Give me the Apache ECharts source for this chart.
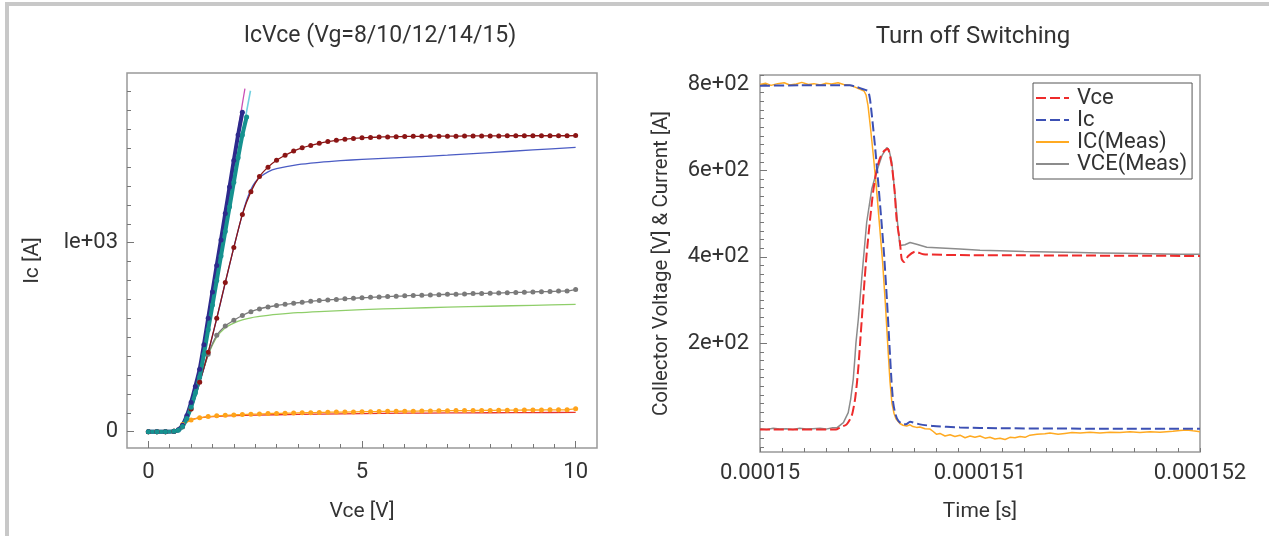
<!DOCTYPE html>
<html><head><meta charset="utf-8">
<script src="https://cdn.jsdelivr.net/npm/echarts@6/dist/echarts.min.js"></script>
<style>
html,body{margin:0;padding:0;background:#fff;overflow:hidden;}
#chart{position:absolute;left:0;top:0;width:1269px;height:536px;}
#frame{position:absolute;left:5px;top:2px;width:1300px;height:600px;border-top:4px solid #c8c8c8;border-left:4px solid #c8c8c8;pointer-events:none;}
</style></head><body>
<div id="chart"></div><div id="frame"></div>
<script>
// ---------- Left chart: Ic vs Vce ----------
const leftTitle = 'IcVce (Vg=8/10/12/14/15)';
const rightTitle = 'Turn off Switching';

const vMeas = [0,0.2,0.4,0.6,0.8,1,1.2,1.4,1.6,1.8,2,2.2,2.4,2.6,2.8,3,3.2,3.4,3.6,3.8,4,4.2,4.4,4.6,4.8,5,5.2,5.4,5.6,5.8,6,6.2,6.4,6.6,6.8,7,7.2,7.4,7.6,7.8,8,8.2,8.4,8.6,8.8,9,9.2,9.4,9.6,9.8,10];
const icVg12Meas = [0,0,0,2,30,120,262,420,600,790,975,1150,1270,1350,1400,1436,1463,1485,1502,1515,1526,1535,1542,1548,1552,1555,1557,1559,1560,1561,1562,1563,1563,1564,1564,1564,1564,1565,1565,1565,1565,1565,1566,1566,1566,1566,1566,1566,1566,1566,1567];
const icVg10Meas = [0,0,0,2,25,120,265,410,510,560,590,615,635,650,660,668,674,680,685,690,694,697,700,703,706,709,711,713,715,717,719,721,722,724,725,727,728,729,731,732,733,734,736,737,738,740,741,742,744,745,752];
const icVg8Meas = [0,0,0,3,38,62,74,80,84,87,89,91,93,94,96,97,98,99,100,101,102,103,104,104,105,106,106,107,108,108,109,109,110,110,111,111,112,112,112,113,113,114,114,114,115,115,115,116,116,116,122];

const vSim12 = [0,0.5,0.6,0.8,1,1.2,1.4,1.6,1.8,2,2.2,2.3,2.4,2.5,2.6,2.8,3,3.5,4,4.5,5,6,7,8,9,10];
const icVg12Sim = [0,0,1,30,118,258,418,598,788,975,1150,1225,1282,1320,1345,1375,1392,1413,1425,1434,1441,1452,1463,1477,1491,1504];
const vSim10 = [0,0.5,0.6,0.8,1,1.2,1.4,1.6,1.8,2,2.2,2.4,2.6,2.8,3,3.5,4,5,6,7,8,9,10];
const icVg10Sim = [0,0,1,25,118,262,405,500,550,575,592,603,610,616,621,630,636,646,653,659,664,669,674];
const vSim8 = [0,0.5,0.6,0.7,0.8,0.9,1,1.2,1.5,2,3,4,5,6,7,8,9,10];
const icVg8Sim = [0,0,1,12,35,52,63,73,80,85,90,93,96,98,99.5,100.5,101.5,102];

const vMeas15 = [0,0.2,0.4,0.6,0.7,0.8,0.9,1,1.1,1.2,1.3,1.4,1.5,1.6,1.7,1.8,1.9,2,2.1,2.2];
const icVg15Meas = [0,0,0,2,10,35,85,155,240,330,460,600,740,880,1015,1155,1295,1435,1570,1690];
const vMeas14 = [0,0.2,0.4,0.6,0.7,0.8,0.9,1,1.1,1.2,1.3,1.4,1.5,1.6,1.7,1.8,1.9,2,2.1,2.2,2.3];
const icVg14Meas = [0,0,0,2,8,28,70,130,205,290,410,540,670,800,930,1060,1190,1320,1450,1570,1665];
const vSim15 = [0,0.6,0.8,1,1.2,1.4,1.6,1.8,2,2.2,2.26];
const icVg15Sim = [0,1,38,160,340,612,895,1175,1455,1735,1815];
const vSim14 = [0,0.6,0.8,1,1.2,1.4,1.6,1.8,2,2.2,2.39];
const icVg14Sim = [0,1,30,135,295,545,805,1065,1325,1575,1804];

const leftXLabels = [0,5,10];
const leftXMinor = [0,0.5,1,1.5,2,2.5,3,3.5,4,4.5,5,5.5,6,6.5,7,7.5,8,8.5,9,9.5,10];
const leftYLabels = [0,1000];
const leftYLabelText = {0:'0',1000:'le+03'};
const leftYMinor = [0,100,200,300,400,500,600,700,800,900,1000,1100,1200,1300,1400,1500,1600,1700,1800];

// ---------- Right chart: turn-off switching ----------
const tVce = [1.5e-4,1.50345e-4,1.50364e-4,1.50394e-4,1.50417e-4,1.50432e-4,1.50441e-4,1.50448e-4,1.50455e-4,1.50464e-4,1.50473e-4,1.50485e-4,1.505e-4,1.50514e-4,1.5053e-4,1.50545e-4,1.50564e-4,1.50581e-4,1.50599e-4,1.50611e-4,1.50621e-4,1.50636e-4,1.50644e-4,1.50655e-4,1.50674e-4,1.50705e-4,1.50742e-4,1.50909e-4,1.52e-4];
const vceSim = [0,0,5,12,32,70,110,150,200,265,330,408,485,550,600,628,645,650,611,557,487,434,395,388,402,412,406,404,402];

const tIc = [1.5e-4,1.50182e-4,1.50409e-4,1.50436e-4,1.50462e-4,1.50482e-4,1.50492e-4,1.505e-4,1.50509e-4,1.50523e-4,1.50536e-4,1.5055e-4,1.50564e-4,1.50577e-4,1.50589e-4,1.50598e-4,1.50606e-4,1.50616e-4,1.50629e-4,1.50651e-4,1.50664e-4,1.50682e-4,1.50727e-4,1.50788e-4,1.50909e-4,1.51091e-4,1.51545e-4,1.52e-4];
const icSim = [796,797,797,794,789,786,784,765,725,655,580,495,405,300,190,110,60,35,20,12,12,18,12,8,5,3,2,2];

const tIcMeas = [1.5e-4,1.50025e-4,1.5005e-4,1.5008e-4,1.5011e-4,1.50135e-4,1.50165e-4,1.5019e-4,1.5022e-4,1.50245e-4,1.50275e-4,1.503e-4,1.50325e-4,1.50355e-4,1.5038e-4,1.5041e-4,1.50432e-4,1.50455e-4,1.50473e-4,1.50482e-4,1.50491e-4,1.50502e-4,1.50516e-4,1.5053e-4,1.50543e-4,1.50557e-4,1.5057e-4,1.50582e-4,1.50591e-4,1.506e-4,1.50609e-4,1.50618e-4,1.50636e-4,1.5065e-4,1.50667e-4,1.50682e-4,1.50695e-4,1.50712e-4,1.50727e-4,1.5075e-4,1.50773e-4,1.50786e-4,1.50803e-4,1.50818e-4,1.50841e-4,1.50864e-4,1.50886e-4,1.50909e-4,1.50932e-4,1.50955e-4,1.50977e-4,1.51e-4,1.51023e-4,1.51045e-4,1.51068e-4,1.51091e-4,1.51114e-4,1.51136e-4,1.51159e-4,1.51182e-4,1.51205e-4,1.51227e-4,1.51259e-4,1.51295e-4,1.51318e-4,1.51355e-4,1.51386e-4,1.51418e-4,1.51455e-4,1.515e-4,1.51545e-4,1.51591e-4,1.51636e-4,1.51682e-4,1.51727e-4,1.51773e-4,1.51818e-4,1.51877e-4,1.51909e-4,1.51941e-4,1.51968e-4,1.52e-4];
const icMeas = [799,802,797,801,803,798,800,804,799,801,798,802,800,803,799,797,793,788,784,775,750,700,630,555,475,390,290,185,110,60,38,25,14,10,8,11,7,5,6,2,1,-4,-11,-9,-15,-12,-16,-13,-19,-15,-18,-15,-20,-18,-22,-20,-23,-18,-19,-16,-18,-13,-11,-10,-8,-11,-9,-7,-8,-6,-8,-6,-7,-5,-7,-5,-6,-4,-2,-1,-3,-5];

const tVceMeas = [1.5e-4,1.5003e-4,1.5006e-4,1.5009e-4,1.5012e-4,1.5015e-4,1.5018e-4,1.5021e-4,1.5024e-4,1.50273e-4,1.503e-4,1.5033e-4,1.50349e-4,1.50379e-4,1.50401e-4,1.50412e-4,1.50424e-4,1.50432e-4,1.50436e-4,1.50447e-4,1.50462e-4,1.5047e-4,1.50485e-4,1.50508e-4,1.5053e-4,1.50555e-4,1.50576e-4,1.50586e-4,1.50599e-4,1.50614e-4,1.50629e-4,1.50636e-4,1.50644e-4,1.50659e-4,1.50682e-4,1.50712e-4,1.50758e-4,1.50909e-4,1.51e-4,1.51091e-4,1.512e-4,1.51318e-4,1.5145e-4,1.51545e-4,1.5165e-4,1.51773e-4,1.519e-4,1.52e-4];
const vceMeas = [2,0,3,1,2,0,3,1,2,3,1,4,4,16,39,70,117,170,200,256,348,394,480,557,597,635,653,648,620,542,458,426,425,428,433,429,422,418,415,414,412,411,410,409,408,407,406,406];

const rightXLabels = [1.5e-4,1.51e-4,1.52e-4];
const rightXTicks = [1.5e-4,1.501e-4,1.502e-4,1.503e-4,1.504e-4,1.505e-4,1.506e-4,1.507e-4,1.508e-4,1.509e-4,1.51e-4,1.511e-4,1.512e-4,1.513e-4,1.514e-4,1.515e-4,1.516e-4,1.517e-4,1.518e-4,1.519e-4,1.52e-4];
const rightYLabels = [200,400,600,800];
const rightYLabelText = {200:'2e+02',400:'4e+02',600:'6e+02',800:'8e+02'};
const rightYMinor = [-40,-20,0,20,40,60,80,100,120,140,160,180,200,220,240,260,280,300,320,340,360,380,400,420,440,460,480,500,520,540,560,580,600,620,640,660,680,700,720,740,760,780,800,820];

// ---------- build ----------
const FONT = 'Roboto';
const TXT = {fontFamily: FONT, fontSize: 22, color: '#333'};
const NAME = {fontFamily: FONT, fontSize: 21, color: '#333'};
const TICK = {color: '#777', width: 1};
const DASH_ICON = 'path://M0,0h9v2h-9z M13,0h9v2h-9z M26,0h7v2h-7z';
function pairs(xs, ys){ return xs.map((x,i)=>[x, ys[i]]); }

function simLine(name, xs, ys, color, w){
  return {name, type:'line', xAxisIndex:0, yAxisIndex:0, data:pairs(xs,ys), symbol:'none',
    smooth:0.3, lineStyle:{color, width:w||1.3}, itemStyle:{color}, silent:true};
}
function measLine(name, xs, ys, color, w, s){
  return {name, type:'line', xAxisIndex:0, yAxisIndex:0, data:pairs(xs,ys), symbol:'circle',
    symbolSize:s||5, showSymbol:true, smooth:0.2, lineStyle:{color, width:w||1.3}, itemStyle:{color}, silent:true};
}
function rightLine(name, xs, ys, color, w, dash, z){
  return {name, type:'line', xAxisIndex:2, yAxisIndex:2, data:pairs(xs,ys), symbol:'none', z:z,
    legendIcon: dash ? DASH_ICON : 'rect',
    smooth: dash ? 0.2 : false, lineStyle:{color, width:w, type: dash ? [10,4] : 'solid'}, itemStyle:{color}, silent:true};
}

const chart = echarts.init(document.getElementById('chart'), null, {renderer:'canvas'});
chart.setOption({
  animation:false,
  backgroundColor:'#fff',
  title:[
    {text:leftTitle, left:380, top:25, textAlign:'center', padding:0, textStyle:{fontFamily:FONT, fontSize:23, fontWeight:'normal', color:'#333'}},
    {text:rightTitle, left:973, top:25, textAlign:'center', padding:0, textStyle:{fontFamily:FONT, fontSize:24, fontWeight:'normal', color:'#333'}}
  ],
  legend:{
    data:['Vce','Ic','IC(Meas)','VCE(Meas)'], orient:'vertical', left:1033, top:83,
    borderColor:'#555', borderWidth:1, borderRadius:0, padding:[4,5,4,2], itemGap:0,
    itemWidth:33, itemHeight:2, selectedMode:false,
    textStyle:Object.assign({padding:[0,0,0,3]}, TXT)
  },
  grid:[
    {left:127, top:73, width:470, height:375, show:true, borderColor:'#999', borderWidth:1.5, containLabel:false, outerBoundsMode:'none'},
    {left:760, top:75, width:440, height:377, show:true, borderColor:'#999', borderWidth:1.5, containLabel:false, outerBoundsMode:'none'}
  ],
  xAxis:[
    {gridIndex:0, type:'value', position:'bottom', min:-0.5, max:10.5, splitLine:{show:false}, axisLine:{show:false, onZero:false},
     axisTick:{show:true, inside:true, length:7, customValues:leftXLabels, lineStyle:TICK},
     axisLabel:Object.assign({customValues:leftXLabels, margin:13}, TXT),
     name:'Vce [V]', nameLocation:'middle', nameGap:53, nameTextStyle:NAME},
    {gridIndex:0, type:'value', position:'bottom', min:-0.5, max:10.5, splitLine:{show:false}, axisLine:{show:false, onZero:false},
     axisTick:{show:true, inside:true, length:4, customValues:leftXMinor, lineStyle:TICK}, axisLabel:{show:false}},
    {gridIndex:1, type:'value', position:'bottom', min:1.5e-4, max:1.52e-4, splitLine:{show:false}, axisLine:{show:false, onZero:false},
     axisTick:{show:true, inside:true, length:4, customValues:rightXTicks, lineStyle:TICK},
     axisLabel:Object.assign({customValues:rightXLabels, margin:10, formatter:(v)=>String(v)}, TXT),
     name:'Time [s]', nameLocation:'middle', nameGap:49, nameTextStyle:NAME},
    {gridIndex:1, type:'value', position:'bottom', min:1.5e-4, max:1.52e-4, show:false, axisLine:{onZero:false}}
  ],
  yAxis:[
    {gridIndex:0, type:'value', position:'left', min:-86, max:1898, splitLine:{show:false}, axisLine:{show:false, onZero:false},
     axisTick:{show:true, inside:true, length:7, customValues:leftYLabels, lineStyle:TICK},
     axisLabel:Object.assign({customValues:leftYLabels, margin:9, formatter:(v)=>leftYLabelText[v]}, TXT),
     name:'Ic [A]', nameLocation:'middle', nameGap:84, nameRotate:90, nameTextStyle:NAME},
    {gridIndex:0, type:'value', position:'left', min:-86, max:1898, splitLine:{show:false}, axisLine:{show:false, onZero:false},
     axisTick:{show:true, inside:true, length:4, customValues:leftYMinor, lineStyle:TICK}, axisLabel:{show:false}},
    {gridIndex:1, type:'value', position:'left', min:-52, max:821, splitLine:{show:false}, axisLine:{show:false, onZero:false},
     axisTick:{show:true, inside:true, length:7, customValues:rightYLabels, lineStyle:TICK},
     axisLabel:Object.assign({customValues:rightYLabels, margin:11, formatter:(v)=>rightYLabelText[v]}, TXT),
     name:'Collector Voltage [V] & Current [A]', nameLocation:'middle', nameGap:88, nameRotate:90,
     nameTextStyle:{fontFamily: FONT, fontSize: 20.5, color: '#333'}},
    {gridIndex:1, type:'value', position:'left', min:-52, max:821, splitLine:{show:false}, axisLine:{show:false, onZero:false},
     axisTick:{show:true, inside:true, length:4, customValues:rightYMinor, lineStyle:TICK}, axisLabel:{show:false}}
  ],
  series:[
    simLine('Vg8 sim', vSim8, icVg8Sim, '#e8332e'),
    simLine('Vg10 sim', vSim10, icVg10Sim, '#8fce6a'),
    simLine('Vg12 sim', vSim12, icVg12Sim, '#4b5cc4'),
    simLine('Vg15 sim', vSim15, icVg15Sim, '#c94fb5'),
    simLine('Vg14 sim', vSim14, icVg14Sim, '#72d0e0', 1.6),
    measLine('Vg8 meas', vMeas, icVg8Meas, '#ffa31a'),
    measLine('Vg10 meas', vMeas, icVg10Meas, '#7a7a7a'),
    measLine('Vg12 meas', vMeas, icVg12Meas, '#8b1515'),
    measLine('Vg15 meas', vMeas15, icVg15Meas, '#2d2a8c', 4, 5),
    measLine('Vg14 meas', vMeas14, icVg14Meas, '#15918f', 4, 5),
    rightLine('IC(Meas)', tIcMeas, icMeas, '#ffaa22', 1.5, false, 2),
    rightLine('VCE(Meas)', tVceMeas, vceMeas, '#8c8c8c', 1.5, false, 2),
    rightLine('Vce', tVce, vceSim, '#ee2b2b', 2, true, 3),
    rightLine('Ic', tIc, icSim, '#3c50b4', 2, true, 3)
  ]
});
</script></body></html>
